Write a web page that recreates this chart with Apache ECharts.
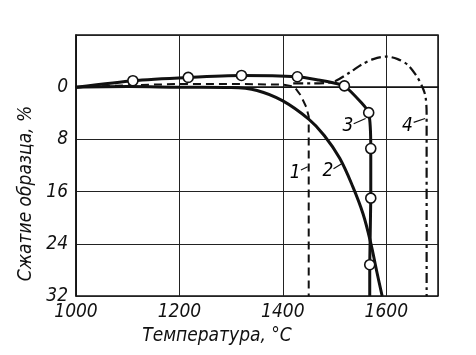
<!DOCTYPE html>
<html><head><meta charset="utf-8">
<script src="https://cdn.jsdelivr.net/npm/echarts@6/dist/echarts.min.js"></script>
<style>html,body{margin:0;padding:0;background:#fff}#c{width:476px;height:355px}</style>
</head><body><div id="c"></div>
<script>
const xTicks = [1000, 1200, 1400, 1600];
const yTicks = [0, 8, 16, 24, 32];
const curve1 = [[1000,0],[1100,-0.3],[1200,-0.5],[1300,-0.5],[1400,-0.4],[1422,-0.1],[1434,1.2],[1445,3],[1450,4.5],[1450,8],[1450,32]];
const curve2 = [[1000,0],[1100,-0.1],[1200,0],[1300,0.05],[1350,0.5],[1400,2.1],[1450,4.9],[1480,7.4],[1510,10.9],[1535,15.2],[1555,19.4],[1570,23.9],[1582,28.4],[1592,32]];
const curve3Line = [[1000,0],[1110,-1.0],[1217,-1.5],[1320,-1.8],[1428,-1.6],[1469,-1.1],[1501,-0.6],[1519,-0.2],[1552,2.4],[1566,3.9],[1570,9.4],[1570,17],[1568,27.2],[1568,32]];
const curve3Points = [[1110,-1.0],[1217,-1.5],[1320,-1.8],[1428,-1.6],[1519,-0.2],[1566,3.9],[1570,9.4],[1570,17],[1568,27.2]];
const curve4 = [[1420,-0.6],[1470,-0.6],[1500,-0.9],[1530,-2.3],[1553,-3.5],[1575,-4.3],[1600,-4.7],[1622,-4.3],[1642,-3.4],[1661,-1.4],[1671,0.2],[1676,1.5],[1678,4],[1678,32]];
const curveLabels = [
  {name:'1', pos:[1425,13.2], leader:[[1435,12.7],[1448,12.2]]},
  {name:'2', pos:[1488,12.9], leader:[[1498,12.5],[1516,11.6]]},
  {name:'3', pos:[1527,6], leader:[[1537,5.6],[1560,4.8]]},
  {name:'4', pos:[1642,6], leader:[[1653,5.4],[1675,4.8]]}
];
const FONT = '"Liberation Sans Narrow","DejaVu Sans Condensed",sans-serif';
const chart = echarts.init(document.getElementById('c'));
const series = [
  {type:'line', data:curve1, symbol:'none', lineStyle:{color:'#111', width:2, type:[8,5]}, z:2},
  {type:'line', data:curve4, symbol:'none', smooth:0.3, lineStyle:{color:'#111', width:2.2, type:[10,4,3,4]}, z:2},
  {type:'line', data:curve2, symbol:'none', smooth:0.35, lineStyle:{color:'#111', width:3}, z:3},
  {type:'line', data:curve3Line, symbol:'none', smooth:0.2, lineStyle:{color:'#111', width:3}, z:3},
  {type:'scatter', data:curve3Points, symbol:'circle', symbolSize:10, itemStyle:{color:'#fff', borderColor:'#111', borderWidth:1.6, opacity:1}, z:5}
];
curveLabels.forEach(l => {
  series.push({type:'line', data:l.leader, symbol:'none', lineStyle:{color:'#111', width:1.2}, z:4});
  series.push({type:'scatter', data:[l.pos], symbolSize:1, itemStyle:{color:'rgba(0,0,0,0)'}, z:6,
    label:{show:true, formatter:l.name, position:[0,0], align:'center', verticalAlign:'middle',
      color:'#000', opacity:1, textBorderWidth:0, fontFamily:FONT, fontStyle:'italic', fontSize:19}});
});
chart.setOption({
  animation:false,
  backgroundColor:'#fff',
  grid:{left:76, right:38, top:35, bottom:59, show:true, borderColor:'#111', borderWidth:1.5},
  xAxis:{type:'value', min:1000, max:1700, interval:200,
    name:'Температура, °C', nameLocation:'middle', nameGap:30,
    nameTextStyle:{color:'#111', fontFamily:FONT, fontStyle:'italic', fontSize:19, padding:[0,80,0,0]},
    axisLine:{show:true, lineStyle:{color:'#111', width:1.5}}, axisTick:{show:false},
    axisLabel:{color:'#111', fontFamily:FONT, fontStyle:'italic', fontSize:19, margin:7,
      formatter:v => xTicks.includes(v) ? String(v) : ''},
    splitLine:{show:true, lineStyle:{color:'#222', width:1}}},
  yAxis:{type:'value', min:-8, max:32, interval:8, inverse:true,
    name:'Сжатие образца, %', nameLocation:'middle', nameGap:40,
    nameTextStyle:{color:'#111', fontFamily:FONT, fontStyle:'italic', fontSize:19, padding:[0,0,0,-56]},
    axisLine:{show:true, lineStyle:{color:'#111', width:1.5}}, axisTick:{show:false},
    axisLabel:{color:'#111', fontFamily:FONT, fontStyle:'italic', fontSize:19, margin:8,
      formatter:v => yTicks.includes(v) ? String(v) : ''},
    splitLine:{show:true, lineStyle:{color:'#222', width:1}}},
  series:series
});
</script></body></html>
